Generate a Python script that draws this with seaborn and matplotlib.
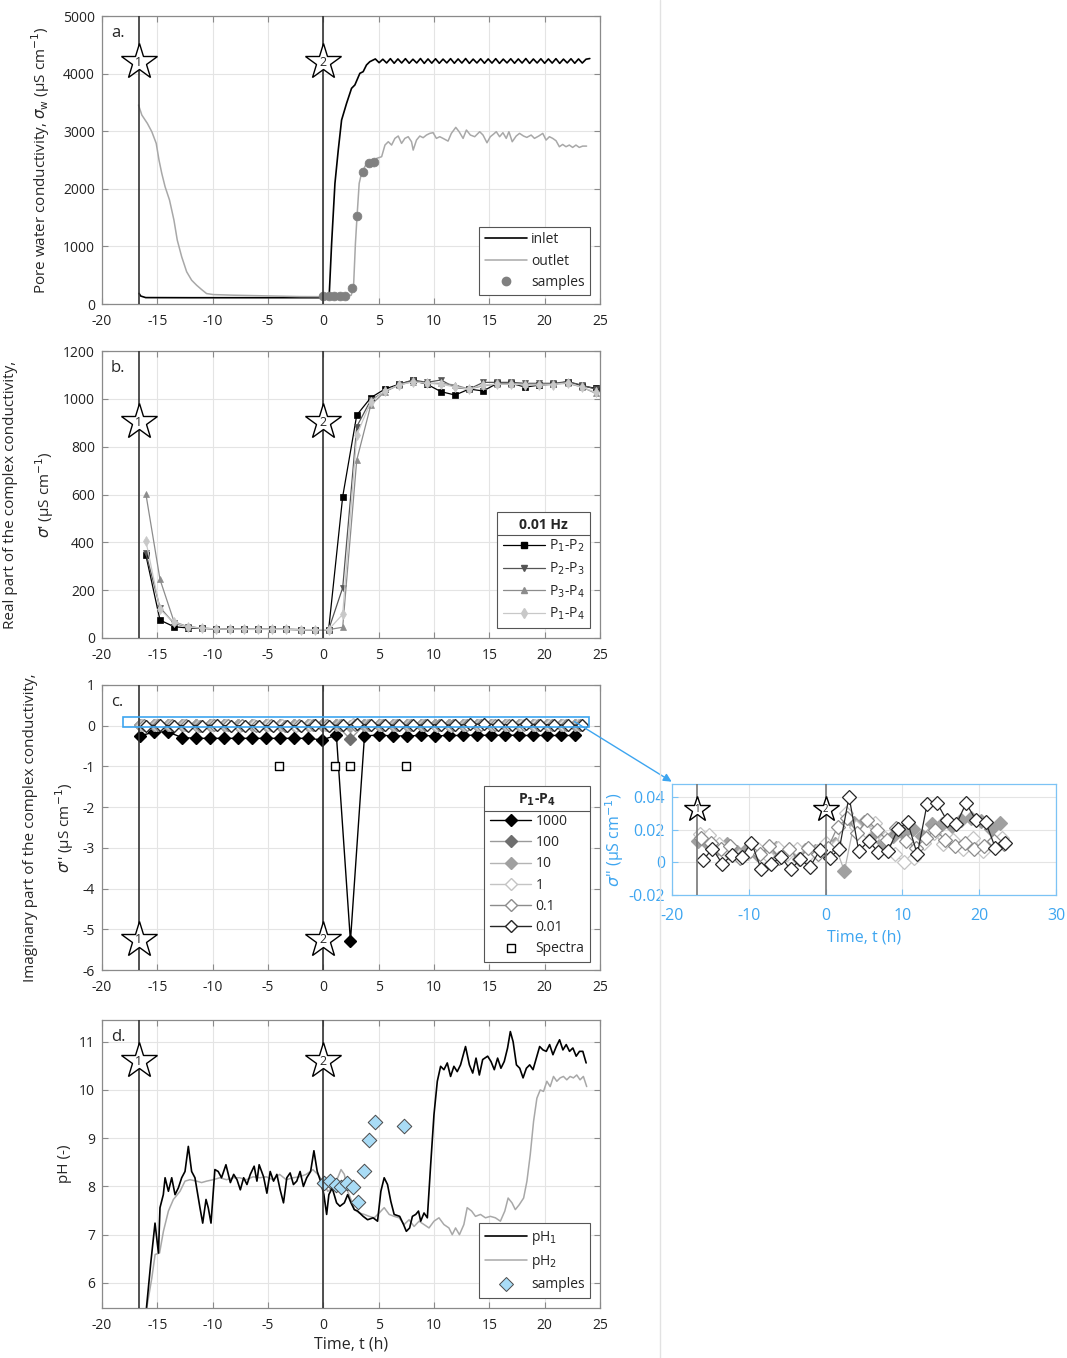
import matplotlib
matplotlib.use("Agg")
import matplotlib.pyplot as plt
from matplotlib.lines import Line2D
from matplotlib.patches import Rectangle
import seaborn as sns

sns.set_theme(style="white")
plt.rcParams["font.family"] = ["Open Sans", "DejaVu Sans"]
plt.rcParams["mathtext.fontset"] = "dejavusans"
plt.rcParams["axes.unicode_minus"] = False

# -----------------------------------------------------
# Data
# -----------------------------------------------------
star_times = [-16.7, 0.0]
star_labels = ["1", "2"]

# a. pore water conductivity (uS/cm)
inlet = [(-16.65, 185), (-16.5, 139), (-16.05, 112), (-12.0, 110), (-8.0, 110), (-4.0, 110),
         (0.0, 110), (0.45, 112), (0.54, 185), (0.75, 1053), (1.05, 2095), (1.35, 2674),
         (1.65, 3194), (2.1, 3484), (2.55, 3745), (2.85, 3803), (3.3, 4005), (3.6, 4034),
         (3.9, 4150), (4.2, 4207), (4.5, 4236),
         (4.70, 4255), (5.04, 4190), (5.38, 4250), (5.72, 4185), (6.06, 4260), (6.40, 4180),
         (6.74, 4255), (7.08, 4185), (7.42, 4260), (7.76, 4180), (8.10, 4250), (8.44, 4185),
         (8.78, 4262), (9.12, 4178), (9.46, 4255), (9.80, 4182), (10.14, 4258), (10.48, 4180),
         (10.82, 4252), (11.16, 4186), (11.50, 4260), (11.84, 4180), (12.18, 4255), (12.52, 4184),
         (12.86, 4262), (13.20, 4178), (13.54, 4252), (13.88, 4185), (14.22, 4258), (14.56, 4180),
         (14.90, 4255), (15.24, 4183), (15.58, 4260), (15.92, 4178), (16.26, 4252), (16.60, 4186),
         (16.94, 4258), (17.28, 4180), (17.62, 4255), (17.96, 4184), (18.30, 4262), (18.64, 4178),
         (18.98, 4254), (19.32, 4185), (19.66, 4258), (20.00, 4180), (20.34, 4255), (20.68, 4183),
         (21.02, 4260), (21.36, 4178), (21.70, 4252), (22.04, 4186), (22.38, 4258), (22.72, 4180),
         (23.06, 4255), (23.40, 4184), (23.74, 4250), (24.08, 4262)]
outlet = [(-16.7, 3455), (-16.4, 3281), (-15.9, 3136), (-15.5, 2992), (-15.1, 2789), (-14.85, 2500),
          (-14.6, 2269), (-14.3, 2037), (-13.9, 1806), (-13.5, 1458), (-13.2, 1111), (-12.8, 821),
          (-12.35, 560), (-11.9, 414), (-11.45, 327), (-11.0, 252), (-10.55, 182), (-9.95, 165),
          (-8.15, 154), (-5.15, 142), (-2.15, 130), (0.0, 128), (1.0, 128), (2.0, 130),
          (2.52, 154), (2.73, 298), (2.9, 1050), (3.05, 1533), (3.24, 2095), (3.45, 2269),
          (3.91, 2443), (4.36, 2471), (4.58, 2384), (4.82, 2529), (5.27, 2558), (5.57, 2760),
          (5.87, 2818), (6.17, 2760), (6.47, 2876), (6.77, 2917), (7.07, 2789), (7.37, 2876),
          (7.67, 2905), (7.97, 2818), (8.12, 2673), (8.42, 2847), (8.72, 2917), (9.02, 2888),
          (9.32, 2934), (9.62, 2963), (9.92, 2975), (10.22, 2876), (10.52, 2905), (10.82, 2876),
          (11.27, 2829), (11.57, 2963), (11.97, 3067), (12.27, 2992), (12.63, 2876), (12.93, 3021),
          (13.29, 2934), (13.68, 2905), (14.13, 2992), (14.43, 2934), (14.79, 2800), (15.09, 2905),
          (15.39, 2951), (15.63, 2992), (15.93, 2905), (16.23, 2975), (16.53, 2876), (16.77, 2992),
          (17.07, 2818), (17.43, 2917), (17.73, 2963), (18.09, 2917), (18.39, 2893), (18.78, 2934),
          (19.08, 2876), (19.47, 2917), (19.83, 2963), (20.13, 2847), (20.43, 2905), (20.73, 2876),
          (21.03, 2835), (21.33, 2731), (21.63, 2771), (21.93, 2731), (22.23, 2760), (22.53, 2719),
          (22.83, 2760), (23.13, 2719), (23.43, 2742), (23.79, 2742)]
samples_t = [0.0, 0.5, 1.0, 1.5, 2.0, 2.62, 3.07, 3.6, 4.12, 4.6]
samples_ec = [140, 140, 140, 140, 140, 272, 1533, 2286, 2442, 2470]

# b. real conductivity at 0.01 Hz
t_b = [-16.03, -14.76, -13.49, -12.22, -10.95, -9.68, -8.41, -7.14, -5.87, -4.60, -3.33,
       -2.06, -0.79, 0.48, 1.75, 3.02, 4.29, 5.56, 6.83, 8.10, 9.37, 10.64, 11.91, 13.18,
       14.45, 15.72, 16.99, 18.26, 19.53, 20.80, 22.07, 23.34, 24.61]
p12 = [345, 75, 47, 42, 40, 38, 37, 36, 36, 36, 36, 35, 35, 35, 591, 932, 1005, 1041, 1061,
       1077, 1061, 1030, 1016, 1041, 1033, 1065, 1065, 1049, 1058, 1061, 1072, 1055, 1044]
p23 = [354, 127, 61, 47, 41, 38, 37, 36, 36, 36, 36, 35, 35, 35, 210, 884, 995, 1030, 1061,
       1079, 1069, 1079, 1047, 1041, 1069, 1069, 1069, 1065, 1065, 1065, 1072, 1058, 1040]
p34 = [601, 245, 68, 47, 41, 38, 37, 36, 36, 36, 36, 35, 35, 35, 45, 744, 974, 1030, 1058,
       1072, 1065, 1065, 1058, 1041, 1055, 1062, 1062, 1062, 1062, 1062, 1065, 1050, 1023]
p14 = [405, 120, 65, 46, 41, 38, 37, 36, 36, 36, 36, 35, 35, 35, 99, 849, 988, 1033, 1058,
       1072, 1065, 1061, 1050, 1041, 1058, 1062, 1062, 1058, 1058, 1060, 1068, 1050, 1027]

# c. imaginary conductivity P1-P4, per frequency (Hz)
t_hi = [-16.60, -15.33, -14.06, -12.79, -11.52, -10.25, -8.98, -7.71, -6.44, -5.17, -3.90,
        -2.63, -1.36, -0.09, 1.18, 2.45, 3.72, 4.99, 6.26, 7.53, 8.80, 10.07, 11.34, 12.61,
        13.88, 15.15, 16.42, 17.69, 18.96, 20.23, 21.50, 22.77]
t_1 = [-16.40, -15.13, -13.86, -12.59, -11.32, -10.05, -8.78, -7.51, -6.24, -4.97, -3.70,
       -2.43, -1.16, 0.11, 1.38, 2.65, 3.92, 5.19, 6.46, 7.73, 9.00, 10.27, 11.54, 12.81,
       14.08, 15.35, 16.62, 17.89, 19.16, 20.43, 21.70, 22.97]
t_01 = [-16.20, -14.93, -13.66, -12.39, -11.12, -9.85, -8.58, -7.31, -6.04, -4.77, -3.50,
        -2.23, -0.96, 0.31, 1.58, 2.85, 4.12, 5.39, 6.66, 7.93, 9.20, 10.47, 11.74, 13.01,
        14.28, 15.55, 16.82, 18.09, 19.36, 20.63, 21.90, 23.17]
t_001 = [-16.00, -14.73, -13.46, -12.19, -10.92, -9.65, -8.38, -7.11, -5.84, -4.57, -3.30,
         -2.03, -0.76, 0.51, 1.78, 3.05, 4.32, 5.59, 6.86, 8.13, 9.40, 10.67, 11.94, 13.21,
         14.48, 15.75, 17.02, 18.29, 19.56, 20.83, 22.10, 23.37]
s_1000 = [-0.25, -0.16, -0.15, -0.29, -0.31, -0.31, -0.31, -0.31, -0.31, -0.31, -0.31, -0.31,
          -0.31, -0.35, -0.23, -5.29, -0.25, -0.23, -0.25, -0.25, -0.24, -0.25, -0.24, -0.24,
          -0.23, -0.24, -0.23, -0.24, -0.24, -0.24, -0.24, -0.24]
s_100 = [0.012, 0.010, 0.009, 0.011, 0.006, 0.008, 0.005, 0.006, 0.009, 0.005, 0.007, 0.008,
         0.007, 0.006, 0.011, -0.33, 0.025, 0.024, 0.018, 0.012, 0.016, 0.018, 0.020, 0.016,
         0.023, 0.023, 0.022, 0.026, 0.027, 0.025, 0.021, 0.024]
s_10 = [0.0131, 0.0111, 0.009, 0.0111, 0.0064, 0.008, 0.0049, 0.006, 0.009, 0.0049, 0.007,
        0.0076, 0.007, 0.0064, 0.0111, -0.0053, 0.024, 0.0248, 0.018, 0.0125, 0.016, 0.0182,
        0.0203, 0.016, 0.0234, 0.0234, 0.0223, 0.026, 0.027, 0.0254, 0.0207, 0.024]
s_1 = [0.0175, 0.017, 0.011, 0.006, 0.004, 0.006, 0.008, 0.004, 0.009, 0.005, 0.008, 0.004,
       0.007, 0.012, 0.010, 0.030, 0.022, 0.020, 0.024, 0.015, 0.005, 0.000, 0.003, 0.012,
       0.018, 0.011, 0.014, 0.008, 0.015, 0.007, 0.012, 0.015]
s_01 = [0.015, 0.012, 0.008, 0.010, 0.003, 0.007, 0.005, 0.010, 0.003, 0.008, 0.002, 0.009,
        0.005, 0.009, 0.022, 0.027, 0.018, 0.026, 0.020, 0.014, 0.021, 0.013, 0.009, 0.015,
        0.020, 0.014, 0.010, 0.012, 0.008, 0.010, 0.013, 0.011]
s_001 = [0.0012, 0.0084, -0.0008, 0.0043, 0.0035, 0.0121, -0.0043, -0.0012, 0.0035, -0.0043,
         0.0018, -0.0027, 0.0074, 0.0029, 0.008, 0.0404, 0.007, 0.0131, 0.0064, 0.007, 0.0203,
         0.0248, 0.0049, 0.0357, 0.0367, 0.026, 0.0234, 0.0363, 0.026, 0.0248, 0.009, 0.0121]
spectra_t = [-4.0, 1.1, 2.37, 7.46]
spectra_v = [-1, -1, -1, -1]

# d. pH
ph1 = [(-16.1, 5.2), (-15.96, 5.54), (-15.6, 6.4), (-15.21, 7.24), (-14.9, 6.62), (-14.76, 7.56),
       (-14.46, 7.83), (-14.3, 8.18), (-14.0, 7.9), (-13.7, 8.18), (-13.4, 7.83), (-13.1, 7.97),
       (-12.8, 8.18), (-12.5, 8.31), (-12.2, 8.83), (-11.9, 8.31), (-11.6, 8.18), (-11.15, 7.56),
       (-10.9, 7.24), (-10.6, 7.73), (-10.4, 7.56), (-10.15, 7.24), (-9.8, 8.35), (-9.5, 8.31),
       (-9.2, 8.18), (-8.8, 8.45), (-8.4, 8.08), (-8.1, 8.25), (-7.8, 8.14), (-7.5, 7.93),
       (-7.2, 8.18), (-6.9, 8.04), (-6.6, 8.25), (-6.25, 8.42), (-6.0, 8.11), (-5.8, 8.45),
       (-5.4, 8.2), (-5.1, 7.86), (-4.8, 8.31), (-4.5, 8.11), (-4.2, 8.25), (-3.9, 7.93),
       (-3.6, 7.66), (-3.3, 8.18), (-3.0, 8.28), (-2.7, 8.04), (-2.4, 8.11), (-2.1, 8.31),
       (-1.8, 8.0), (-1.5, 8.18), (-1.15, 8.31), (-0.85, 8.74), (-0.55, 8.31), (-0.25, 8.11),
       (0.05, 7.83), (0.3, 7.42), (0.5, 7.83), (0.8, 7.97), (1.2, 7.66), (1.5, 7.59),
       (1.9, 7.66), (2.2, 7.83), (2.5, 7.66), (2.8, 7.52), (3.1, 7.49), (3.6, 7.38),
       (4.0, 7.31), (4.5, 7.35), (4.9, 7.28), (5.2, 7.9), (5.5, 8.18), (5.8, 8.04),
       (6.1, 7.69), (6.4, 7.42), (6.9, 7.38), (7.25, 7.21), (7.5, 7.07), (7.8, 7.14),
       (8.05, 7.38), (8.35, 7.42), (8.6, 7.49), (8.8, 7.28), (9.1, 7.45), (9.4, 7.35),
       (9.7, 8.45), (10.0, 9.49), (10.3, 10.18), (10.6, 10.49), (10.9, 10.42), (11.2, 10.56),
       (11.5, 10.28), (11.8, 10.49), (12.1, 10.38), (12.4, 10.52), (12.85, 10.9), (13.2, 10.52),
       (13.5, 10.35), (13.8, 10.66), (14.1, 10.31), (14.4, 10.63), (14.85, 10.7), (15.15, 10.59),
       (15.45, 10.42), (15.75, 10.66), (16.05, 10.45), (16.35, 10.59), (16.65, 10.87), (16.9, 11.21),
       (17.15, 11.0), (17.45, 10.52), (17.75, 10.45), (18.05, 10.25), (18.35, 10.45), (18.65, 10.52),
       (18.95, 10.42), (19.25, 10.66), (19.55, 10.9), (19.85, 10.83), (20.15, 10.8), (20.45, 10.94),
       (20.75, 10.73), (21.05, 10.9), (21.35, 11.04), (21.65, 10.83), (21.95, 10.94), (22.25, 10.8),
       (22.55, 10.87), (22.85, 10.7), (23.15, 10.8), (23.45, 10.8), (23.75, 10.56)]
ph2 = [(-15.96, 5.48), (-15.5, 6.1), (-15.2, 6.59), (-14.8, 6.62), (-14.45, 7.07), (-14.0, 7.49),
       (-13.55, 7.73), (-12.95, 7.9), (-12.5, 8.11), (-12.05, 8.14), (-11.45, 8.11), (-11.0, 8.08),
       (-10.55, 8.11), (-9.95, 8.14), (-9.35, 8.18), (-8.75, 8.14), (-8.15, 8.18), (-7.55, 8.18),
       (-6.95, 8.14), (-6.35, 8.2), (-5.75, 8.18), (-5.15, 8.2), (-4.55, 8.14), (-3.95, 8.25),
       (-3.35, 8.14), (-2.75, 8.18), (-2.15, 8.2), (-1.55, 8.25), (-0.95, 8.35), (-0.5, 8.25),
       (-0.05, 8.11), (0.4, 7.9), (0.85, 7.97), (1.3, 8.18), (1.6, 8.35), (1.9, 8.25),
       (2.2, 7.9), (2.5, 7.73), (2.8, 7.52), (3.25, 7.45), (3.7, 7.42), (4.15, 7.38),
       (4.6, 7.35), (5.05, 7.45), (5.5, 7.56), (5.95, 7.42), (6.4, 7.38), (6.85, 7.35),
       (7.3, 7.21), (7.75, 7.31), (8.2, 7.17), (8.65, 7.28), (9.1, 7.21), (9.55, 7.14),
       (10.0, 7.28), (10.45, 7.35), (10.9, 7.21), (11.35, 7.14), (11.65, 7.0), (11.95, 7.14),
       (12.3, 7.0), (12.7, 7.21), (13.0, 7.56), (13.4, 7.49), (13.75, 7.38), (14.2, 7.42),
       (14.65, 7.35), (15.1, 7.38), (15.55, 7.35), (16.0, 7.28), (16.4, 7.49), (16.7, 7.76),
       (17.05, 7.66), (17.35, 7.52), (17.7, 7.62), (18.1, 7.76), (18.4, 8.11), (18.7, 8.66),
       (19.0, 9.35), (19.3, 9.83), (19.6, 10.0), (19.9, 9.97), (20.2, 10.18), (20.5, 10.07),
       (20.8, 10.28), (21.1, 10.18), (21.4, 10.25), (21.7, 10.28), (22.0, 10.21), (22.3, 10.28),
       (22.6, 10.25), (22.9, 10.31), (23.2, 10.21), (23.5, 10.28), (23.8, 10.07)]
ph_samples_t = [0.08, 0.62, 1.14, 1.62, 2.13, 2.65, 3.13, 3.64, 4.12, 4.63, 7.31]
ph_samples_v = [8.07, 8.12, 8.03, 7.98, 8.07, 7.98, 7.68, 8.32, 8.97, 9.34, 9.26]

# -----------------------------------------------------
# Helpers
# -----------------------------------------------------
SPINE = "#8a8a8a"
GRID = "#e4e4e4"
BLUE = "#3da5f0"

fig = plt.figure(figsize=(10.67, 13.58), dpi=100)


def style_axes(ax, ylim, yticks, color=SPINE, labelcolor="#222222", size=10):
    ax.set_xlim(-20, 25)
    ax.set_xticks(range(-20, 30, 5))
    ax.set_ylim(*ylim)
    ax.set_yticks(yticks)
    ax.grid(True, color=GRID, lw=0.8)
    ax.set_axisbelow(True)
    for s in ax.spines.values():
        s.set_color(color)
        s.set_linewidth(0.9)
    ax.tick_params(direction="in", length=4, width=0.8, color=color, labelsize=size,
                   labelcolor=labelcolor, top=True, right=True, bottom=True, left=True)
    ax.tick_params(axis="x", pad=7)
    ax.tick_params(axis="y", pad=5)
    ax.set_xlabel("")
    ax.set_ylabel("")


def add_stars(ax, y, ms=27, fs=9, lc="#333333"):
    for t, lab in zip(star_times, star_labels):
        ax.axvline(t, color=lc, lw=1.2, zorder=6)
        ax.plot([t], [y], marker="*", ms=ms, mfc="white", mec="black", mew=1.0, zorder=7, clip_on=False)
        ax.text(t, y, lab, ha="center", va="center", fontsize=fs, zorder=8)


def legend_box(ax, handles, labels, anchor, title=None):
    leg = ax.legend(handles, labels, loc="lower right", bbox_to_anchor=anchor, borderaxespad=0,
                    fontsize=10, handlelength=3.0, handletextpad=0.3, frameon=True, fancybox=False,
                    edgecolor="#555555", framealpha=1, title=title, labelspacing=0.45,
                    title_fontproperties={"weight": "bold", "size": 10})
    leg.get_frame().set_linewidth(0.8)
    leg.set_zorder(20)
    return leg


def pairs(seq):
    return [p[0] for p in seq], [p[1] for p in seq]


# -----------------------------------------------------
# a. Pore water conductivity
# -----------------------------------------------------
ax_a = fig.add_axes([0.0956, 0.7761, 0.4667, 0.2121])
x, y = pairs(inlet)
sns.lineplot(x=x, y=y, ax=ax_a, color="black", lw=1.2, sort=False)
x, y = pairs(outlet)
sns.lineplot(x=x, y=y, ax=ax_a, color="#a8a8a8", lw=1.1, sort=False)
sns.scatterplot(x=samples_t, y=samples_ec, ax=ax_a, color="#808080", s=40, edgecolor="#808080", zorder=5)
style_axes(ax_a, (0, 5000), range(0, 6000, 1000))
add_stars(ax_a, 4200)
ax_a.text(0.018, 0.94, "a.", transform=ax_a.transAxes, fontsize=12, va="center")
ax_a.set_ylabel(r"Pore water conductivity, $\sigma_{\rm w}$ (µS cm$^{-1}$)", fontsize=11)
ax_a.yaxis.set_label_coords(-0.100, 0.5)
h_a = [Line2D([], [], color="black", lw=1.2), Line2D([], [], color="#a8a8a8", lw=1.1),
       Line2D([], [], ls="none", marker="o", color="#808080", ms=6)]
legend_box(ax_a, h_a, ["inlet", "outlet", "samples"], (0.98, 0.03))

# -----------------------------------------------------
# b. Real part
# -----------------------------------------------------
ax_b = fig.add_axes([0.0956, 0.5302, 0.4667, 0.2113])
b_series = [(p12, "black", "s", 4.5, r"P$_1$-P$_2$"), (p23, "#555555", "v", 5, r"P$_2$-P$_3$"),
            (p34, "#8c8c8c", "^", 5, r"P$_3$-P$_4$"), (p14, "#c8c8c8", "d", 5.5, r"P$_1$-P$_4$")]
h_b, l_b = [], []
for vals, col, mk, ms, lab in b_series:
    sns.lineplot(x=t_b, y=vals, ax=ax_b, color=col, lw=0.9, marker=mk, ms=ms, mfc=col, mec=col, mew=0.5)
    h_b.append(Line2D([], [], color=col, lw=0.9, marker=mk, ms=ms, mfc=col, mec=col))
    l_b.append(lab)
style_axes(ax_b, (0, 1200), range(0, 1400, 200))
add_stars(ax_b, 903)
ax_b.text(0.018, 0.94, "b.", transform=ax_b.transAxes, fontsize=12, va="center")
ax_b.set_ylabel("Real part of the complex conductivity,\n" + r"$\sigma$' (µS cm$^{-1}$)",
                fontsize=11, linespacing=1.9)
ax_b.yaxis.set_label_coords(-0.092, 0.5)
leg_b = legend_box(ax_b, h_b, l_b, (0.98, 0.035), title="0.01 Hz")

# -----------------------------------------------------
# c. Imaginary part
# -----------------------------------------------------
ax_c = fig.add_axes([0.0956, 0.2857, 0.4667, 0.2099])
c_series = [(t_hi, s_1000, "black", "black", "black", "1000"),
            (t_hi, s_100, "#6e6e6e", "#6e6e6e", "#9a9a9a", "100"),
            (t_hi, s_10, "#a0a0a0", "#a0a0a0", "#b4b4b4", "10"),
            (t_1, s_1, "white", "#c4c4c4", "#c4c4c4", "1"),
            (t_01, s_01, "white", "#8c8c8c", "#8c8c8c", "0.1"),
            (t_001, s_001, "white", "#262626", "#262626", "0.01")]
h_c, l_c = [], []
for tt, vals, fc, ec, lc, lab in c_series:
    sns.lineplot(x=tt, y=vals, ax=ax_c, color=lc, lw=1.0, marker="D", ms=6, mfc=fc, mec=ec, mew=1.0)
    h_c.append(Line2D([], [], color=lc, lw=1.0, marker="D", ms=6, mfc=fc, mec=ec, mew=1.0))
    l_c.append(lab)
sns.scatterplot(x=spectra_t, y=spectra_v, ax=ax_c, marker="s", s=40, facecolor="white",
                edgecolor="black", linewidth=1.0, zorder=5)
h_c.append(Line2D([], [], ls="none", marker="s", ms=6, mfc="white", mec="black", mew=1.0))
l_c.append("Spectra")
style_axes(ax_c, (-6, 1), range(-6, 2))
add_stars(ax_c, -5.26)
ax_c.text(0.018, 0.94, "c.", transform=ax_c.transAxes, fontsize=12, va="center")
ax_c.set_ylabel("Imaginary part of the complex conductivity,\n" + r"$\sigma$'' (µS cm$^{-1}$)",
                fontsize=11, linespacing=1.9)
ax_c.yaxis.set_label_coords(-0.052, 0.5)
leg_c = legend_box(ax_c, h_c, l_c, (0.98, 0.028), title=r"P$_\mathbf{1}$-P$_\mathbf{4}$")
ax_c.add_patch(Rectangle((-18.1, -0.04), 42.1, 0.25, fill=False, edgecolor=BLUE, lw=1.2, zorder=9))
ax_c.annotate("", xy=(0.6295, 0.4244), xycoords="figure fraction", xytext=(22.7, 0.1),
              textcoords="data", annotation_clip=False,
              arrowprops=dict(arrowstyle="-|>", color=BLUE, lw=1.0, mutation_scale=12,
                              shrinkA=0, shrinkB=0))

# -----------------------------------------------------
# inset: zoom on sigma''
# -----------------------------------------------------
ax_i = fig.add_axes([0.6298, 0.3409, 0.3599, 0.0817])
for tt, vals, fc, ec, lc, lab in c_series[2:]:
    sns.lineplot(x=tt, y=vals, ax=ax_i, color=lc, lw=0.9, marker="D", ms=7.5, mfc=fc, mec=ec, mew=0.9)
style_axes(ax_i, (-0.02, 0.048), [-0.02, 0, 0.02, 0.04], color="#7cc3f5", labelcolor=BLUE, size=11.5)
ax_i.set_xlim(-20, 30)
ax_i.set_xticks(range(-20, 40, 10))
ax_i.tick_params(top=False, right=False)
ax_i.tick_params(axis="x", pad=9)
ax_i.set_yticklabels(["-0.02", "0", "0.02", "0.04"])
add_stars(ax_i, 0.0326, ms=19, fs=7, lc="#777777")
ax_i.set_ylabel(r"$\sigma$'' (µS cm$^{-1}$)", fontsize=11.5, color=BLUE)
ax_i.yaxis.set_label_coords(-0.12, 0.5)
ax_i.set_xlabel("Time, t (h)", fontsize=11.5, color=BLUE, labelpad=4)

# -----------------------------------------------------
# d. pH
# -----------------------------------------------------
ax_d = fig.add_axes([0.0956, 0.0368, 0.4667, 0.2121])
x, y = pairs(ph2)
sns.lineplot(x=x, y=y, ax=ax_d, color="#a8a8a8", lw=1.1, sort=False)
x, y = pairs(ph1)
sns.lineplot(x=x, y=y, ax=ax_d, color="black", lw=1.2, sort=False)
sns.scatterplot(x=ph_samples_t, y=ph_samples_v, ax=ax_d, marker="D", s=55, facecolor="#a9dcf6",
                edgecolor="#4a4a4a", linewidth=0.7, zorder=5)
style_axes(ax_d, (5.48, 11.45), range(6, 12))
add_stars(ax_d, 10.59)
ax_d.text(0.018, 0.94, "d.", transform=ax_d.transAxes, fontsize=12, va="center")
ax_d.set_ylabel("pH (-)", fontsize=11)
ax_d.yaxis.set_label_coords(-0.060, 0.5)
ax_d.set_xlabel("Time, t (h)", fontsize=11.5, labelpad=3)
h_d = [Line2D([], [], color="black", lw=1.2), Line2D([], [], color="#a8a8a8", lw=1.1),
       Line2D([], [], ls="none", marker="D", ms=7, mfc="#a9dcf6", mec="#4a4a4a", mew=0.7)]
legend_box(ax_d, h_d, [r"pH$_1$", r"pH$_2$", "samples"], (0.98, 0.035))

# separator between left column and inset
fig.add_artist(Line2D([0.6186, 0.6186], [0, 1], color="#e2e2e2", lw=1.0))

# rule under the legend titles (MATLAB style)
fig.canvas.draw()
inv = fig.transFigure.inverted()
for leg in (leg_b, leg_c):
    fb = leg.get_frame().get_window_extent()
    tb = leg.get_title().get_window_extent()
    yy = tb.y0 - 3
    (x0, y0), (x1, _) = inv.transform([(fb.x0, yy), (fb.x1, yy)])
    fig.add_artist(Line2D([x0, x1], [y0, y0], color="#555555", lw=0.8, zorder=25))

fig.savefig("out.png", dpi=100)
